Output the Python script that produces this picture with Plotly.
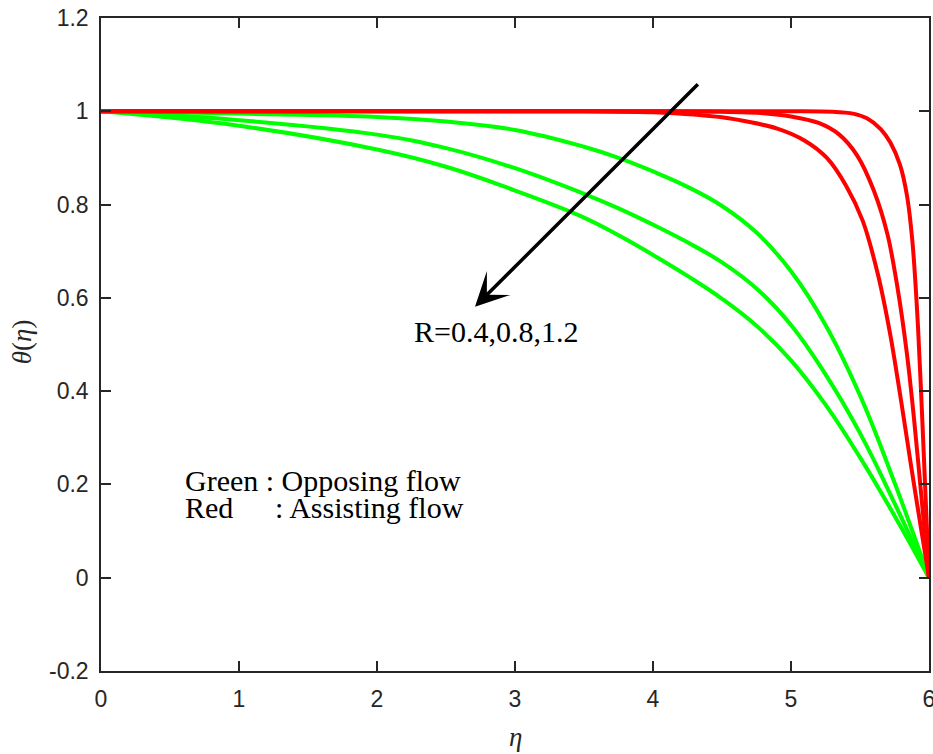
import plotly.graph_objects as go

# ---- data ----
# Opposing flow (green), R = 0.4, 0.8, 1.2
green_x = [0, 1, 2, 2.5, 3, 3.5, 3.75, 4, 4.25, 4.5, 4.75, 5, 5.25, 5.5, 5.75, 6.0]
green_r04 = [1, 0.995, 0.988, 0.978, 0.960, 0.924, 0.900, 0.871, 0.838, 0.797, 0.740, 0.657, 0.542, 0.391, 0.204, 0]
green_r08 = [1, 0.981, 0.950, 0.921, 0.878, 0.823, 0.792, 0.757, 0.719, 0.676, 0.620, 0.542, 0.436, 0.310, 0.160, 0]
green_r12 = [1, 0.969, 0.918, 0.881, 0.830, 0.772, 0.734, 0.692, 0.647, 0.598, 0.540, 0.466, 0.371, 0.258, 0.133, 0]

# Assisting flow (red)
red_r04_x = [0, 5.0, 5.3, 5.45, 5.55, 5.65, 5.72, 5.79, 5.84, 5.88, 5.92, 5.96, 6.0]
red_r04_y = [1, 1, 0.999, 0.995, 0.985, 0.962, 0.933, 0.885, 0.820, 0.720, 0.540, 0.280, 0]
red_r08_x = [0, 4.0, 4.5, 4.8, 5.0, 5.2, 5.35, 5.48, 5.6, 5.7, 5.77, 5.84, 5.89, 5.94, 6.0]
red_r08_y = [1, 1, 0.999, 0.996, 0.989, 0.975, 0.950, 0.905, 0.830, 0.735, 0.625, 0.480, 0.345, 0.190, 0]
red_r12_x = [0, 3.5, 4.0, 4.5, 4.9, 5.1, 5.26, 5.4, 5.52, 5.63, 5.72, 5.8, 5.87, 5.94, 6.0]
red_r12_y = [1, 1, 0.998, 0.987, 0.963, 0.937, 0.900, 0.840, 0.765, 0.650, 0.520, 0.375, 0.240, 0.110, 0]

x_ticks = [0, 1, 2, 3, 4, 5, 6]
x_tick_text = ["0", "1", "2", "3", "4", "5", "6"]
y_ticks = [-0.2, 0, 0.2, 0.4, 0.6, 0.8, 1.0, 1.2]
y_tick_text = ["-0.2", "0", "0.2", "0.4", "0.6", "0.8", "1", "1.2"]

arrow_tail = (4.336, 1.061)
arrow_head = (2.71, 0.581)

GREEN = "#00FF00"
RED = "#FF0000"
AX = "#262626"
SERIF = "Liberation Serif, Times New Roman, serif"
SANS = "Liberation Sans, Arial, sans-serif"

fig = go.Figure()
for ys in (green_r04, green_r08, green_r12):
    fig.add_trace(go.Scatter(x=green_x, y=ys, mode="lines",
                             line=dict(color=GREEN, width=4, shape="spline", smoothing=1.2),
                             showlegend=False))
for xs, ys in ((red_r04_x, red_r04_y), (red_r08_x, red_r08_y), (red_r12_x, red_r12_y)):
    fig.add_trace(go.Scatter(x=xs, y=ys, mode="lines",
                             line=dict(color=RED, width=4, shape="spline", smoothing=0.8),
                             showlegend=False))

axis_common = dict(showline=True, linecolor=AX, linewidth=1.5, mirror="ticks",
                   ticks="inside", ticklen=10, tickwidth=1.5, tickcolor=AX,
                   showgrid=False, zeroline=False, ticklabeloverflow="allow",
                   automargin=False,
                   tickfont=dict(family=SANS, size=23, color=AX))

fig.update_xaxes(range=[0, 6], tickmode="array", tickvals=x_ticks, ticktext=x_tick_text,
                 ticklabelstandoff=7, **axis_common)
fig.update_yaxes(range=[-0.2, 1.2], tickmode="array", tickvals=y_ticks, ticktext=y_tick_text,
                 ticklabelstandoff=6, **axis_common)

fig.add_annotation(x=arrow_head[0], y=arrow_head[1], ax=arrow_tail[0], ay=arrow_tail[1],
                   xref="x", yref="y", axref="x", ayref="y", text="", showarrow=True,
                   arrowhead=3, arrowsize=1.6, arrowwidth=3.5, arrowcolor="black", standoff=0)
fig.add_annotation(x=2.251, y=0.527, xref="x", yref="y", text="R=0.4,0.8,1.2",
                   showarrow=False, xanchor="left", yanchor="middle",
                   font=dict(family=SERIF, size=30, color="black"))
fig.add_annotation(x=0.594, y=0.208, xref="x", yref="y", text="Green : Opposing flow",
                   showarrow=False, xanchor="left", yanchor="middle",
                   font=dict(family=SERIF, size=30, color="black"))
fig.add_annotation(x=0.594, y=0.151, xref="x", yref="y", text="Red",
                   showarrow=False, xanchor="left", yanchor="middle",
                   font=dict(family=SERIF, size=30, color="black"))
fig.add_annotation(x=1.246, y=0.151, xref="x", yref="y", text=": Assisting flow",
                   showarrow=False, xanchor="left", yanchor="middle",
                   font=dict(family=SERIF, size=30, color="black"))

fig.add_annotation(x=0.5, y=-0.101, xref="paper", yref="paper", text="<i>η</i>",
                   showarrow=False, xanchor="center", yanchor="middle",
                   font=dict(family=SERIF, size=27, color=AX))
fig.add_annotation(x=-0.0954, y=0.505, xref="paper", yref="y", text="<i>θ</i>(<i>η</i>)",
                   showarrow=False, xanchor="center", yanchor="middle", textangle=-90,
                   font=dict(family=SERIF, size=27, color=AX))

fig.update_layout(width=933, height=754, margin=dict(l=101, r=4, t=18, b=83),
                  paper_bgcolor="white", plot_bgcolor="white")

fig.write_html("out.html")
